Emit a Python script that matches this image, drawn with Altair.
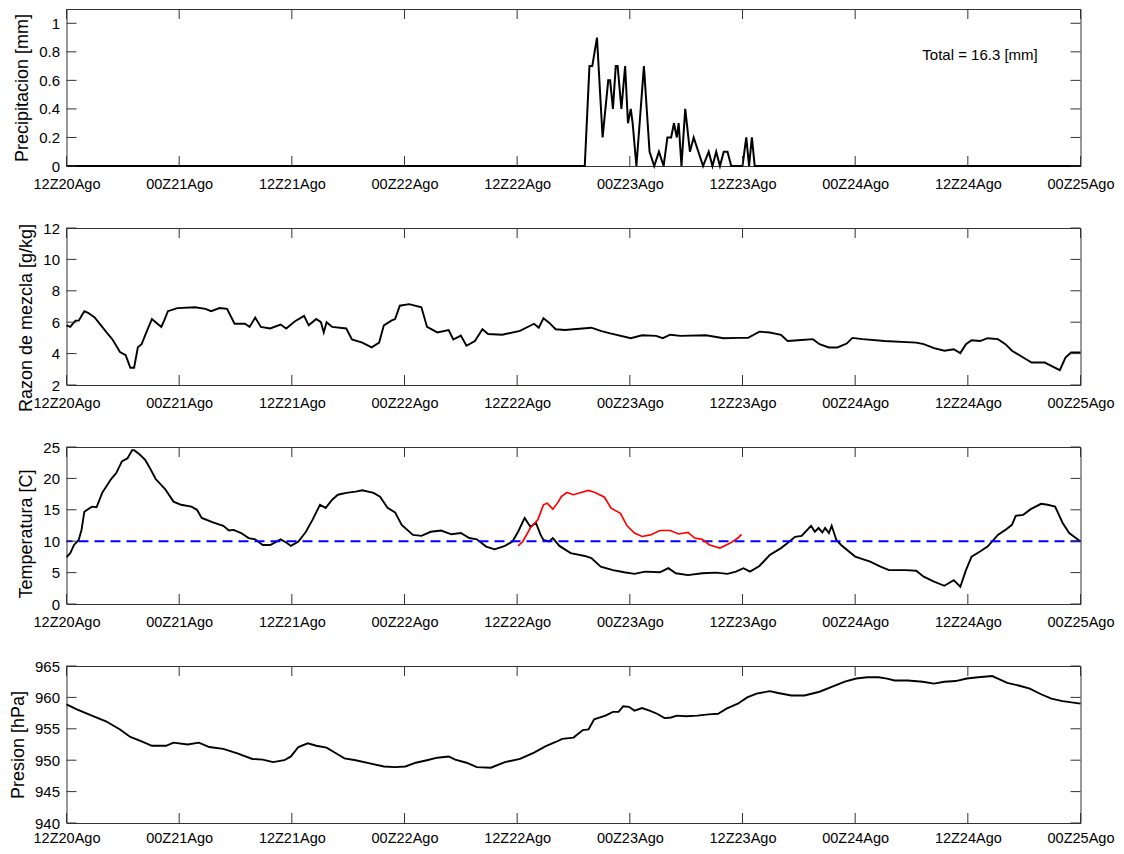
import altair as alt
import pandas as pd

# ---------------- data ----------------
TICK_HOURS = [0, 12, 24, 36, 48, 60, 72, 84, 96, 108]
TICK_LABELS = ["12Z20Ago", "00Z21Ago", "12Z21Ago", "00Z22Ago", "12Z22Ago",
               "00Z23Ago", "12Z23Ago", "00Z24Ago", "12Z24Ago", "00Z25Ago"]

precip_h = [0, 55.2, 55.7, 56.0, 56.5, 57.1, 57.7, 57.9, 58.2, 58.5, 58.7, 59.1, 59.5, 59.8, 60.1, 60.3,
            60.7, 61.5, 62.1, 62.6, 63.1, 63.6, 64.0, 64.4, 64.7, 65.0, 65.2, 65.5, 65.9, 66.4, 66.8,
            67.3, 67.8, 68.4, 68.8, 69.2, 69.6, 70.0, 70.4, 70.8, 72.0, 72.4, 72.7, 73.0, 73.3, 108]
precip_v = [0, 0, 0.7, 0.7, 0.9, 0.2, 0.6, 0.6, 0.4, 0.7, 0.7, 0.4, 0.7, 0.3, 0.4, 0.3,
            0, 0.7, 0.1, 0, 0.1, 0, 0.2, 0.2, 0.3, 0.2, 0.3, 0, 0.4, 0.1, 0.2,
            0.1, 0, 0.1, 0, 0.1, 0, 0.1, 0.1, 0, 0, 0.2, 0, 0.2, 0, 0]
precip_total = "Total = 16.3 [mm]"

mr_h = [0, 0.4, 0.95, 1.3, 1.9, 2.3, 3.0, 3.8, 4.4, 4.9,
        5.7, 6.3, 6.8, 7.2, 7.6, 8.0, 8.6, 9.1, 9.5, 10.1,
        10.4, 10.8, 11.8, 13.7, 14.8, 15.4, 16.3, 17.1, 17.9, 19.0,
        19.5, 20.1, 20.7, 21.7, 22.8, 23.4, 24.3, 25.3, 25.8, 26.6,
        27.1, 27.4, 27.7, 28.3, 29.8, 30.4, 31.5, 32.5, 33.3, 33.8,
        34.6, 35.0, 35.5, 36.5, 37.8, 38.4, 39.5, 40.7, 41.2, 42.0,
        42.6, 43.5, 44.3, 44.9, 46.4, 48.3, 49.8, 50.3, 50.8, 51.4,
        52.1, 53.1, 54.0, 55.9, 56.9, 57.8, 60.1, 61.3, 62.8, 63.5,
        64.3, 65.4, 68.1, 70.0, 71.5, 72.6, 73.8, 74.9, 76.1, 76.8,
        78.3, 79.5, 80.2, 81.2, 82.1, 83.1, 83.7, 84.8, 87.1, 90.5,
        91.3, 92.4, 93.5, 94.5, 95.2, 95.8, 96.4, 97.3, 98.1, 99.2,
        100.0, 100.7, 101.9, 102.8, 104.2, 105.1, 105.8, 106.4, 107.0, 108]
mr_v = [5.8, 5.7, 6.1, 6.1, 6.7, 6.6, 6.3, 5.7, 5.25, 4.9,
        4.1, 3.9, 3.1, 3.1, 4.4, 4.6, 5.5, 6.2, 6.0, 5.7,
        6.1, 6.7, 6.9, 6.95, 6.85, 6.7, 6.9, 6.85, 5.9, 5.9,
        5.7, 6.3, 5.7, 5.6, 5.85, 5.6, 6.05, 6.4, 5.8, 6.2,
        6.0, 5.35, 6.0, 5.7, 5.6, 4.9, 4.7, 4.4, 4.7, 5.8,
        6.1, 6.2, 7.05, 7.15, 6.95, 5.7, 5.35, 5.5, 4.9, 5.15,
        4.5, 4.8, 5.55, 5.25, 5.2, 5.45, 5.9, 5.65, 6.25, 5.97,
        5.55, 5.5, 5.55, 5.65, 5.45, 5.3, 4.98, 5.17, 5.13, 4.98,
        5.2, 5.13, 5.17, 4.98, 5.0, 5.0, 5.4, 5.34, 5.2, 4.8,
        4.87, 4.92, 4.6, 4.39, 4.39, 4.64, 5.0, 4.92, 4.8, 4.7,
        4.6, 4.35, 4.18, 4.28, 4.03, 4.6, 4.85, 4.8, 4.98, 4.92,
        4.6, 4.18, 3.75, 3.43, 3.43, 3.16, 2.95, 3.75, 4.07, 4.07]

temp_h = [0, 0.4, 0.8, 1.3, 1.6, 1.9, 2.7, 3.2, 3.8, 4.75,
          5.3, 5.9, 6.5, 7.0, 7.2, 7.8, 8.4, 8.9, 9.5, 10.5,
          11.4, 12.2, 13.3, 13.9, 14.4, 15.6, 16.7, 17.3, 17.8, 18.6,
          19.4, 20.1, 20.9, 21.7, 22.8, 23.4, 23.9, 24.7, 25.5, 26.2,
          27.0, 27.6, 28.3, 28.9, 29.8, 30.8, 31.5, 32.7, 33.4, 34.2,
          35.0, 35.7, 36.9, 37.8, 38.8, 39.9, 41.0, 42.0, 42.9, 43.7,
          44.7, 45.6, 46.7, 47.5, 48.1, 48.8, 49.4, 50.0, 50.5, 50.8,
          51.4, 51.8, 52.5, 53.7, 55.2, 55.9, 56.9, 58.2, 59.4, 60.5,
          61.6, 63.2, 64.1, 64.9, 66.2, 67.7, 69.2, 70.4, 71.3, 72.1,
          72.8, 73.8, 74.9, 76.1, 76.8, 77.6, 78.3, 79.3, 79.7, 80.1,
          80.5, 80.8, 81.2, 81.5, 82.0, 82.5, 84.0, 85.6, 86.7, 87.6,
          89.4, 90.5, 91.3, 92.4, 93.5, 94.5, 95.2, 95.8, 96.4, 97.3,
          98.1, 99.2, 100.0, 100.7, 101.1, 101.9, 102.7, 103.8, 104.5, 105.3,
          106.1, 106.8, 108]
temp_v = [7.45, 8.1, 9.4, 10.2, 11.8, 14.7, 15.5, 15.4, 17.7, 19.9,
          20.85, 22.7, 23.2, 24.5, 24.5, 23.8, 22.9, 21.6, 19.9, 18.3,
          16.3, 15.8, 15.5, 15.0, 13.7, 13.0, 12.45, 11.7, 11.8, 11.3,
          10.5, 10.3, 9.4, 9.4, 10.3, 9.8, 9.25, 9.95, 11.5, 13.4,
          15.8, 15.3, 16.6, 17.4, 17.7, 17.9, 18.1, 17.7, 17.1, 15.3,
          14.6, 12.6, 11.0, 10.85, 11.5, 11.7, 11.1, 11.3, 10.5, 10.3,
          9.15, 8.7, 9.25, 9.95, 11.5, 13.7, 12.3, 12.9, 11.0, 10.2,
          9.95, 10.5, 9.25, 8.1, 7.65, 7.3, 5.95, 5.4, 5.05, 4.8,
          5.15, 5.05, 5.7, 4.9, 4.6, 4.9, 5.0, 4.8, 5.15, 5.7,
          5.15, 6.05, 7.8, 8.9, 9.7, 10.7, 10.85, 12.45, 11.5, 12.1,
          11.4, 12.1, 11.3, 12.45, 10.2, 9.4, 7.55, 6.75, 5.95, 5.4,
          5.4, 5.3, 4.35, 3.55, 2.9, 3.8, 2.75, 5.4, 7.55, 8.35,
          9.15, 11.0, 11.8, 12.6, 14.05, 14.2, 15.1, 15.95, 15.8, 15.5,
          12.9, 11.3, 9.95]

temp2_h = [48.1, 48.6, 49.4, 50.2, 50.8, 51.2, 51.8, 52.4, 52.7, 53.3,
           54.0, 54.8, 55.6, 56.3, 57.3, 58.0, 59.0, 59.7, 60.5, 61.3,
           62.2, 63.2, 64.3, 65.2, 66.2, 66.9, 67.7, 68.5, 69.6, 70.7,
           71.5, 71.9]
temp2_v = [9.25, 9.95, 12.1, 13.4, 15.8, 16.05, 15.1, 16.3, 17.1, 17.75,
           17.4, 17.75, 18.1, 17.75, 17.0, 15.25, 14.45, 12.45, 11.3, 10.75,
           11.0, 11.7, 11.7, 11.15, 11.4, 10.5, 10.3, 9.4, 8.9, 9.7,
           10.5, 11.1]
temp_ref = [10]

pres_h = [0, 1.1, 2.7, 4.2, 5.7, 6.8, 8.0, 9.1, 10.6, 11.4,
          12.9, 14.1, 15.2, 16.7, 18.2, 19.8, 20.9, 22.0, 23.2, 23.9,
          24.7, 25.7, 26.6, 27.7, 28.7, 29.6, 30.8, 32.3, 33.8, 35.0,
          36.1, 37.2, 38.4, 39.5, 40.7, 41.4, 42.6, 43.7, 45.2, 46.7,
          48.3, 49.8, 51.0, 52.1, 52.8, 54.0, 55.0, 55.6, 56.2, 57.4,
          58.2, 58.8, 59.3, 59.9, 60.5, 61.3, 62.1, 62.9, 63.7, 64.4,
          65.0, 66.0, 67.2, 68.4, 69.4, 70.3, 71.5, 72.5, 73.5, 74.9,
          75.8, 77.2, 78.6, 80.2, 81.7, 82.9, 84.1, 85.3, 86.5, 87.4,
          88.2, 89.6, 91.2, 92.4, 93.5, 94.7, 95.9, 97.1, 98.6, 99.2,
          100.2, 101.4, 102.6, 103.8, 104.9, 106.1, 108]
pres_v = [958.9, 958.1, 957.1, 956.2, 954.9, 953.7, 953.0, 952.3, 952.3, 952.8,
          952.5, 952.8, 952.1, 951.8, 951.1, 950.2, 950.1, 949.7, 950.0, 950.6,
          952.1, 952.7, 952.3, 952.0, 951.1, 950.3, 950.0, 949.5, 949.0, 948.9,
          949.0, 949.6, 950.0, 950.4, 950.6, 950.1, 949.6, 948.9, 948.8, 949.7,
          950.2, 951.2, 952.2, 952.9, 953.4, 953.6, 954.8, 954.9, 956.5, 957.1,
          957.7, 957.7, 958.6, 958.5, 957.9, 958.3, 957.9, 957.4, 956.7, 956.8,
          957.1, 957.0, 957.1, 957.3, 957.4, 958.2, 959.0, 960.0, 960.6, 961.0,
          960.7, 960.3, 960.3, 960.9, 961.8, 962.5, 963.0, 963.2, 963.2, 963.0,
          962.7, 962.7, 962.5, 962.2, 962.5, 962.6, 963.0, 963.2, 963.4, 963.0,
          962.3, 961.9, 961.4, 960.5, 959.8, 959.4, 959.0]

# ---------------- style ----------------
FONT = "Liberation Sans"
FRAME = "#333333"
W, H = 1014, 157
TICK_LEN = 10
label_expr = "[" + ",".join(repr(s) for s in TICK_LABELS) + "][round(datum.value / 12)]"
xscale = alt.Scale(domain=[0, 108], nice=False, zero=False)
df_xt = pd.DataFrame({"h": TICK_HOURS})


def x_main(label_pad):
    return alt.X("h:Q", scale=xscale,
                 axis=alt.Axis(values=TICK_HOURS, labelExpr=label_expr, ticks=False, tickSize=0,
                               domain=False, grid=False, title=None, labelPadding=label_pad,
                               labelFontSize=14.5, labelFlush=False, labelOverlap=False,
                               minExtent=0))


def y_main(yscale, yvals, title, fmt, title_shift):
    return alt.Y("v:Q", scale=yscale,
                 axis=alt.Axis(values=yvals, format=fmt, ticks=False, tickSize=0, domain=False,
                               grid=False, title=title, labelPadding=7, titlePadding=7,
                               titleY=H / 2 + title_shift,
                               labelOverlap=False, labelFlush=False))


def xs():
    return alt.X("h:Q", scale=xscale, axis=None)


def yv(ys):
    return alt.Y("v:Q", scale=ys, axis=None)


def tick_layers(ys, y_vals):
    """Inward-pointing ticks on all four sides, placed through the scales."""
    df_yt = pd.DataFrame({"v": y_vals})
    rule = dict(color=FRAME, strokeWidth=1)
    top = alt.Chart(df_xt).mark_rule(**rule).encode(
        x=xs(), y=alt.value(0), y2=alt.value(TICK_LEN))
    bottom = alt.Chart(df_xt).mark_rule(**rule).encode(
        x=xs(), y=alt.value(H - TICK_LEN), y2=alt.value(H))
    left = alt.Chart(df_yt).mark_rule(**rule).encode(
        y=yv(ys), x=alt.value(0), x2=alt.value(TICK_LEN))
    right = alt.Chart(df_yt).mark_rule(**rule).encode(
        y=yv(ys), x=alt.value(W - TICK_LEN), x2=alt.value(W))
    return [top, bottom, left, right]


def panel(df_main, y_dom, y_vals, title, fmt, extra_layers=(), title_shift=0, sw=1.9,
          label_pad=11):
    ys = alt.Scale(domain=y_dom, nice=False, zero=False)
    main = alt.Chart(df_main).mark_line(color="black", strokeWidth=sw).encode(
        x=x_main(label_pad), y=y_main(ys, y_vals, title, fmt, title_shift))
    layers = [main] + [f(ys) for f in extra_layers] + tick_layers(ys, y_vals)
    return alt.layer(*layers).resolve_axis(x="independent", y="independent").properties(
        width=W, height=H)


# panel 1: precipitation
df_p = pd.DataFrame({"h": precip_h, "v": precip_v})
df_ann = pd.DataFrame({"h": [97.3], "v": [0.78], "t": [precip_total]})


def ann_layer(ys):
    return alt.Chart(df_ann).mark_text(font=FONT, fontSize=15, color="black", align="center",
                                       baseline="middle").encode(
        x=xs(), y=yv(ys), text="t:N")


p1 = panel(df_p, [0, 1.1], [0, 0.2, 0.4, 0.6, 0.8, 1], "Precipitacion [mm]", "~g",
           extra_layers=[ann_layer], sw=2)

# panel 2: mixing ratio
df_mr = pd.DataFrame({"h": mr_h, "v": mr_v})
p2 = panel(df_mr, [2, 12], [2, 4, 6, 8, 10, 12], "Razon de mezcla [g/kg]", "d", title_shift=11)

# panel 3: temperature
df_t = pd.DataFrame({"h": temp_h, "v": temp_v})
df_t2 = pd.DataFrame({"h": temp2_h, "v": temp2_v})
df_ref = pd.DataFrame({"v": temp_ref})


def red_layer(ys):
    return alt.Chart(df_t2).mark_line(color="#ff0000", strokeWidth=1.7).encode(
        x=xs(), y=yv(ys))


def ref_layer(ys):
    return alt.Chart(df_ref).mark_rule(color="#0000ff", strokeWidth=2, strokeDash=[10, 6]).encode(
        y=yv(ys))


p3 = panel(df_t, [0, 25], [0, 5, 10, 15, 20, 25], "Temperatura [C]", "d",
           extra_layers=[ref_layer, red_layer], title_shift=8)

# panel 4: pressure
df_pr = pd.DataFrame({"h": pres_h, "v": pres_v})
p4 = panel(df_pr, [940, 965], [940, 945, 950, 955, 960, 965], "Presion [hPa]", "d",
           label_pad=8)

chart = alt.vconcat(p1, p2, p3, p4, spacing=62, bounds="flush").properties(
    padding={"left": 0.5, "top": 0, "right": 0, "bottom": 1.5}
).configure_axis(
    labelFont=FONT, titleFont=FONT, labelFontSize=15, titleFontSize=18,
    titleFontWeight="normal", labelColor="black", titleColor="black"
).configure_view(stroke=FRAME, strokeWidth=1)

chart.save("out.html", embed_options={"renderer": "svg", "actions": False})
